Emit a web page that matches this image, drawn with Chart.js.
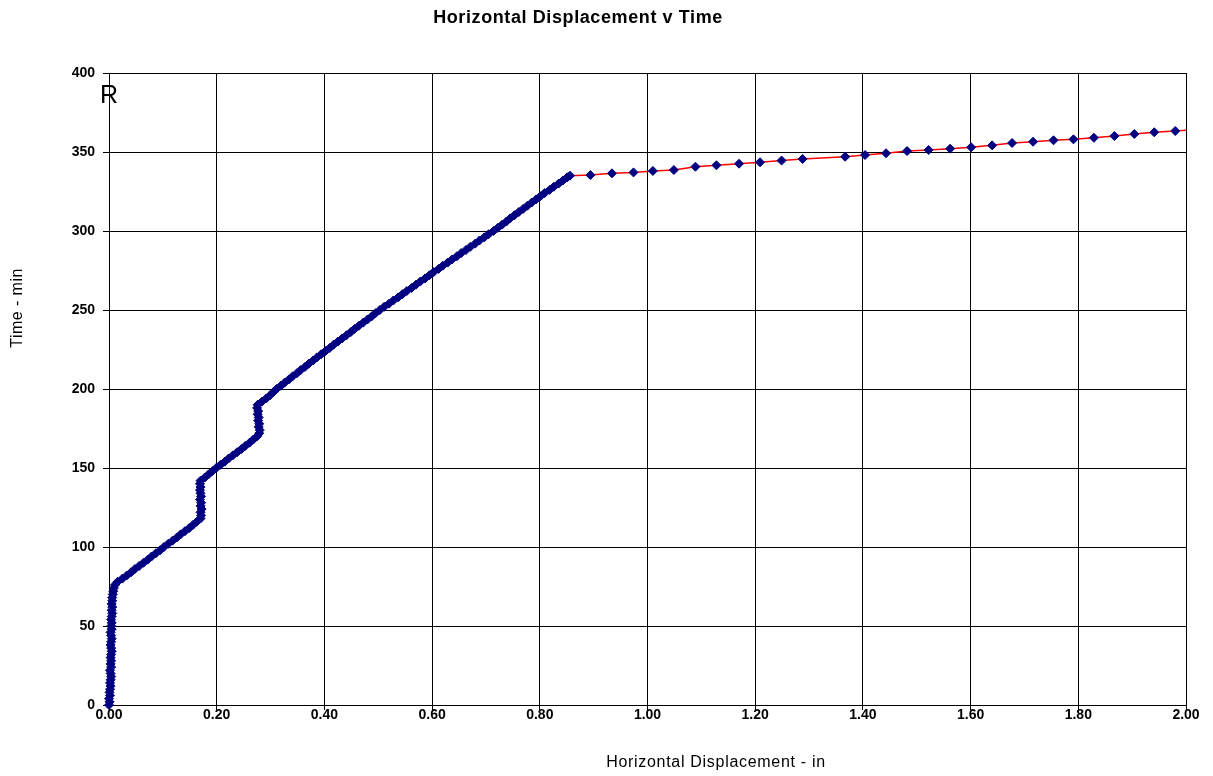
<!DOCTYPE html>
<html lang="en">
<head>
    <meta charset="UTF-8">
    <title>Horizontal Displacement v Time</title>
    <script src="https://cdn.jsdelivr.net/npm/chart.js"></script>
    <style>
        body { margin: 0; background: #fff; }
    </style>
</head>
<body>
    <canvas id="dispChart" width="1213" height="776"></canvas>
    <script>
        // horizontal displacement (in) and elapsed time (min), one reading per row
        const dispIn = [
            0.000, 0.001, 0.000, 0.002, 0.001, 0.002, 0.003, 0.002, 0.003, 0.004,
            0.003, 0.002, 0.004, 0.003, 0.004, 0.003, 0.004, 0.005, 0.004, 0.003,
            0.004, 0.005, 0.004, 0.003, 0.005, 0.004, 0.005, 0.004, 0.005, 0.006,
            0.005, 0.006, 0.005, 0.006, 0.006,
            0.007, 0.008, 0.009, 0.011, 0.016, 0.025, 0.033, 0.041, 0.048, 0.056,
            0.064, 0.072, 0.079, 0.087, 0.095, 0.102, 0.110, 0.118, 0.126, 0.133,
            0.141, 0.149, 0.156, 0.163, 0.170,
            0.171, 0.170, 0.172, 0.170, 0.171, 0.169, 0.171, 0.170, 0.169, 0.170,
            0.169, 0.170,
            0.178, 0.185, 0.192, 0.199, 0.207, 0.215, 0.222, 0.230, 0.238, 0.246,
            0.253, 0.261, 0.268, 0.275,
            0.279, 0.280, 0.278, 0.279, 0.277, 0.278, 0.276, 0.277, 0.275, 0.276,
            0.284, 0.292, 0.299, 0.305, 0.311,
            0.319, 0.326, 0.334, 0.341, 0.349, 0.356, 0.364, 0.371, 0.379, 0.386, 0.394, 0.402,
            0.410, 0.417, 0.425, 0.433, 0.441, 0.449, 0.456, 0.464, 0.472, 0.480, 0.488, 0.495, 0.503,
            0.511, 0.520, 0.528, 0.537, 0.545, 0.553, 0.562, 0.570, 0.578, 0.587, 0.595, 0.603,
            0.612, 0.620, 0.629, 0.637, 0.646, 0.654, 0.663, 0.671, 0.680, 0.688, 0.697, 0.705, 0.714,
            0.722, 0.730, 0.738, 0.745, 0.753, 0.761, 0.769, 0.777, 0.785, 0.793, 0.801,
            0.809, 0.818, 0.826, 0.835, 0.843, 0.851, 0.856,
            0.894, 0.934, 0.974, 1.010, 1.049, 1.089, 1.128, 1.170, 1.209, 1.249,
            1.288, 1.367, 1.404, 1.443, 1.482, 1.522, 1.562, 1.601, 1.640, 1.677,
            1.716, 1.754, 1.791, 1.829, 1.867, 1.904, 1.941, 1.980, 2.019
        ];
        const timeMin = [
            0, 2, 4, 6, 8, 10, 12, 14, 16, 18,
            20, 22, 24, 26, 28, 30, 32, 34, 36, 38,
            40, 42, 44, 46, 48, 50, 52, 54, 56, 58,
            60, 62, 64, 66, 68,
            70, 72, 74, 76, 78, 80, 82, 84, 86, 88,
            90, 92, 94, 96, 98, 100, 102, 104, 106, 108,
            110, 112, 114, 116, 118,
            120, 122, 124, 126, 128, 130, 132, 134, 136, 138,
            140, 142,
            144, 146, 148, 150, 152, 154, 156, 158, 160, 162,
            164, 166, 168, 170,
            172, 174, 176, 178, 180, 182, 184, 186, 188, 190,
            192, 194, 196, 198, 200,
            202, 204, 206, 208, 210, 212, 214, 216, 218, 220, 222, 224,
            226, 228, 230, 232, 234, 236, 238, 240, 242, 244, 246, 248, 250,
            252, 254, 256, 258, 260, 262, 264, 266, 268, 270, 272, 274,
            276, 278, 280, 282, 284, 286, 288, 290, 292, 294, 296, 298, 300,
            302, 304, 306, 308, 310, 312, 314, 316, 318, 320, 322,
            324, 326, 328, 330, 332, 334, 335,
            335.4, 336.5, 337.1, 338.0, 338.6, 340.7, 341.6, 342.6, 343.5, 344.6,
            345.6, 347.0, 348.1, 349.2, 350.6, 351.3, 352.1, 353.0, 354.2, 355.7,
            356.5, 357.4, 358.0, 359.0, 360.1, 361.4, 362.5, 363.3, 364.2
        ];

        const xTicks = { min: 0, max: 2, step: 0.2 };
        const yTicks = { min: 0, max: 400, step: 50 };

        const points = dispIn.map((x, i) => ({ x: x, y: timeMin[i] }));

        const FONT = '"Liberation Sans", Arial, sans-serif';

        // white background plus the titles and the stray "R" label
        const textPlugin = {
            id: 'texts',
            beforeDraw(chart) {
                const c = chart.ctx;
                c.save();
                c.fillStyle = '#fff';
                c.fillRect(0, 0, chart.width, chart.height);
                c.restore();
            },
            afterDraw(chart) {
                const c = chart.ctx;
                c.save();
                c.fillStyle = '#000';
                c.textBaseline = 'middle';
                c.textAlign = 'center';

                c.font = 'bold 18px ' + FONT;
                c.letterSpacing = '0.6px';
                c.fillText('Horizontal Displacement v Time', 578, 18);

                c.font = '16px ' + FONT;
                c.letterSpacing = '0.7px';
                c.fillText('Horizontal Displacement - in', 716, 763);

                c.save();
                c.translate(18, 308);
                c.rotate(-Math.PI / 2);
                c.letterSpacing = '0.45px';
                c.fillText('Time - min', 0, 0);
                c.restore();

                c.letterSpacing = '0px';
                c.textAlign = 'left';
                c.textBaseline = 'alphabetic';
                c.font = '25px ' + FONT;
                c.fillText('R', 100, 103);
                c.restore();
            }
        };

        const tickFont = { family: FONT, size: 14, weight: 'bold' };

        new Chart(document.getElementById('dispChart'), {
            type: 'scatter',
            data: {
                datasets: [{
                    data: points,
                    showLine: true,
                    borderColor: 'rgb(255, 0, 0)',
                    borderWidth: 1.5,
                    pointStyle: 'rectRot',
                    pointRadius: 4.5,
                    pointBorderWidth: 1,
                    pointBackgroundColor: '#000080',
                    pointBorderColor: '#000080',
                    clip: { left: false, top: false, right: 0, bottom: false }
                }]
            },
            options: {
                responsive: false,
                animation: false,
                layout: { padding: { top: 73, right: 27, left: 0, bottom: 0 } },
                plugins: {
                    legend: { display: false },
                    tooltip: { enabled: false },
                    title: { display: false }
                },
                scales: {
                    x: {
                        type: 'linear',
                        min: xTicks.min,
                        max: xTicks.max,
                        afterFit: s => { s.height = 71; },
                        border: { display: true, color: '#000', width: 1 },
                        grid: { color: '#000', lineWidth: 1, tickLength: 5 },
                        ticks: {
                            stepSize: xTicks.step,
                            color: '#000',
                            font: tickFont,
                            padding: -3,
                            maxRotation: 0,
                            callback: v => v.toFixed(2)
                        }
                    },
                    y: {
                        type: 'linear',
                        min: yTicks.min,
                        max: yTicks.max,
                        afterFit: s => { s.width = 109; },
                        border: { display: true, color: '#000', width: 1 },
                        grid: { color: '#000', lineWidth: 1, tickLength: 6 },
                        ticks: {
                            stepSize: yTicks.step,
                            color: '#000',
                            font: tickFont,
                            padding: 8
                        }
                    }
                }
            },
            plugins: [textPlugin]
        });
    </script>
</body>
</html>
